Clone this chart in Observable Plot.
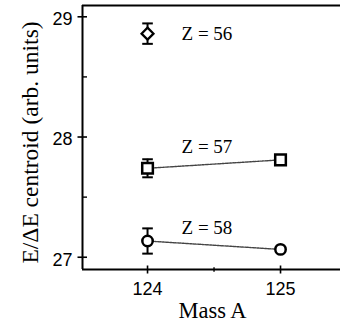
<!DOCTYPE html>
<html>
<head>
<meta charset="utf-8">
<script src="https://cdn.jsdelivr.net/npm/d3@7"></script>
<script src="https://cdn.jsdelivr.net/npm/@observablehq/plot@0.6"></script>
<style>
  body { margin: 0; background: #fff; color: #000; }
</style>
</head>
<body>
<div id="chart"></div>
<script>
// Measured E/ΔE centroids per isotope chain (Z) versus mass number A
const massA = [124, 125];
const chargeZ = [56, 57, 58];
const centroidZ56 = [28.86];
const errorZ56 = [0.085];
const centroidZ57 = [27.74, 27.81];
const errorZ57 = [0.075, 0.02];
const centroidZ58 = [27.135, 27.065];
const errorZ58 = [0.105, 0.02];

const yTicks = [27, 28, 29];
const yMinorTicks = [27.5, 28.5];
const xTicks = [124, 125];
const xMinorTicks = [124.5];

const serif = "'Liberation Serif', 'Times New Roman', serif";
const sans = "'Liberation Sans', Arial, Helvetica, sans-serif";

// one row per measurement
const series = [
  {z: chargeZ[0], values: centroidZ56, errors: errorZ56},
  {z: chargeZ[1], values: centroidZ57, errors: errorZ57},
  {z: chargeZ[2], values: centroidZ58, errors: errorZ58}
];
const rows = series.flatMap(s => s.values.map((v, i) => ({
  Z: s.z, A: massA[i], E: v, lo: v - s.errors[i], hi: v + s.errors[i]
})));
const labelRows = series.map(s => ({Z: s.z, A: massA[0], E: s.values[0], text: `Z = ${s.z}`}));

// marker style for each chain
const markerSymbol = {56: "diamond2", 57: "square", 58: "circle"};
const markerRadius = {56: 5.4, 57: 6, 58: 5.2};
const labelShift = {56: 6, 57: -15.3, 58: -6.7};

// horizontal cap for the error bars (half-width = r)
const capSymbol = {
  draw(context, size) {
    const w = Math.sqrt(size / Math.PI);
    context.moveTo(-w, 0);
    context.lineTo(w, 0);
  }
};
// tick glyphs that cross the axis line
const yMajorTick = {draw(c) { c.moveTo(-5, 0); c.lineTo(4.5, 0); }};
const yMinorTick = {draw(c) { c.moveTo(0, 0); c.lineTo(4.5, 0); }};
const xMajorTick = {draw(c) { c.moveTo(0, -4); c.lineTo(0, 4); }};
const xMinorTick = {draw(c) { c.moveTo(0, -2.2); c.lineTo(0, 2.2); }};

const xDomain = [123.511, 125.451];
const yDomain = [26.898, 29.094];

const chart = Plot.plot({
  width: 340,
  height: 326,
  marginLeft: 82,
  marginRight: 0,
  marginTop: 5,
  marginBottom: 57,
  style: {background: "#fff", color: "#000", overflow: "visible"},
  x: {domain: xDomain, axis: null},
  y: {domain: yDomain, axis: null},
  marks: [
    // frame: left axis, bottom axis, top border
    Plot.ruleX([xDomain[0]], {strokeWidth: 2}),
    Plot.ruleY([yDomain[0]], {strokeWidth: 2}),
    Plot.ruleY([yDomain[1]], {strokeWidth: 2}),

    // y axis ticks and labels
    Plot.dot(yTicks, {x: () => xDomain[0], y: d => d, symbol: yMajorTick, stroke: "#000", strokeWidth: 1.6}),
    Plot.dot(yMinorTicks, {x: () => xDomain[0], y: d => d, symbol: yMinorTick, stroke: "#000", strokeWidth: 1.4}),
    Plot.text(yTicks, {x: () => xDomain[0], y: d => d, text: d => String(d), dx: -10, dy: 2.5,
      textAnchor: "end", fontSize: 18, fontFamily: sans}),

    // x axis ticks and labels
    Plot.dot(xTicks, {x: d => d, y: () => yDomain[0], symbol: xMajorTick, stroke: "#000", strokeWidth: 1.6}),
    Plot.dot(xMinorTicks, {x: d => d, y: () => yDomain[0], symbol: xMinorTick, stroke: "#000", strokeWidth: 1.4}),
    Plot.text(xTicks, {x: d => d, y: () => yDomain[0], text: d => String(d), dy: 13,
      lineAnchor: "top", fontSize: 18, fontFamily: sans}),

    // connecting lines within each chain
    Plot.line(rows, {x: "A", y: "E", z: "Z", stroke: "#444", strokeWidth: 1.4,
      strokeDasharray: "1.5,1"}),

    // error bars
    Plot.ruleX(rows, {x: "A", y1: "lo", y2: "hi", strokeWidth: 2}),
    Plot.dot(rows, {x: "A", y: "lo", symbol: capSymbol, r: 5.3, stroke: "#000", strokeWidth: 2}),
    Plot.dot(rows, {x: "A", y: "hi", symbol: capSymbol, r: 5.3, stroke: "#000", strokeWidth: 2}),

    // markers
    ...chargeZ.map(z => Plot.dot(rows.filter(d => d.Z === z), {
      x: "A", y: "E", symbol: markerSymbol[z], r: markerRadius[z],
      fill: "#fff", stroke: "#000", strokeWidth: z === 56 ? 2.2 : 2.5
    })),

    // chain labels
    ...chargeZ.map(z => Plot.text(labelRows.filter(d => d.Z === z), {
      x: "A", y: "E", text: "text", dx: 34, dy: labelShift[z],
      textAnchor: "start", lineAnchor: "bottom", fontSize: 19, fontFamily: serif
    })),

    // axis titles
    Plot.text(["Mass A"], {frameAnchor: "bottom", dx: 1, dy: 48, lineAnchor: "bottom",
      textAnchor: "middle", fontSize: 22.5, fontFamily: serif}),
    Plot.text(["E/ΔE centroid (arb. units)"], {frameAnchor: "left", rotate: -90,
      dx: -45, dy: 5, textAnchor: "middle", lineAnchor: "bottom", fontSize: 23.5, fontFamily: serif})
  ]
});

document.getElementById("chart").append(chart);
</script>
</body>
</html>
